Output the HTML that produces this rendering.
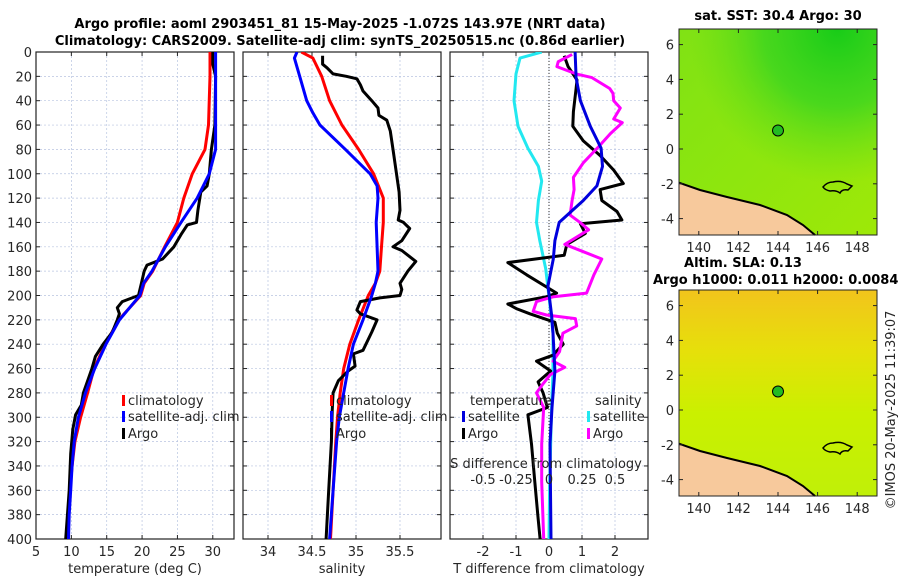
<!DOCTYPE html>
<html><head><meta charset="utf-8"><style>
body{margin:0;background:#fff;}
svg{display:block;font-family:"DejaVu Sans","Liberation Sans",sans-serif;}
.t{font-size:13px;fill:#262626;}
.b{font-size:13px;font-weight:bold;fill:#000;}
</style></head><body>
<svg id="fig" width="900" height="580" viewBox="0 0 900 580">
<defs>
<linearGradient id="sstg" x1="0" y1="0" x2="1" y2="1">
<stop offset="0" stop-color="#80e214"/><stop offset="0.5" stop-color="#8ee60e"/><stop offset="1" stop-color="#9ee808"/></linearGradient>
<radialGradient id="sstTop" cx="0.8" cy="0" r="0.75"><stop offset="0" stop-color="#18cc18"/><stop offset="0.5" stop-color="#38d420" stop-opacity="0.8"/><stop offset="1" stop-color="#60dc18" stop-opacity="0"/></radialGradient>
<linearGradient id="slag" x1="0" y1="0" x2="0" y2="1">
<stop offset="0" stop-color="#f2c41c"/><stop offset="0.3" stop-color="#e6e00a"/><stop offset="0.6" stop-color="#caf000"/><stop offset="1" stop-color="#c0f008"/></linearGradient>
<clipPath id="c1"><rect x="36" y="52" width="198" height="487"/></clipPath>
<clipPath id="c2"><rect x="243" y="52" width="198" height="487"/></clipPath>
<clipPath id="c3"><rect x="450" y="52" width="198" height="487"/></clipPath>
</defs>
<g id="root"></g>
</svg>
<script>
// ---- data ----
const tempClimDepth=[0,20,60,80,100,120,140,160,180,190,200,220,240,260,280,300,320,340,360,380,400];
const tempClim=[29.6,29.6,29.4,28.9,27.1,25.9,25.0,23.2,21.5,20.3,19.8,16.7,14.8,13.2,12.3,11.3,10.5,10.1,9.8,9.6,9.5];
const tempSatDepth=[0,80,100,120,140,160,180,190,200,220,240,260,280,300,320,340,360,380,400];
const tempSat=[30.4,30.4,29.5,27.8,25.5,23.3,21.4,20.2,19.7,16.8,14.9,13.3,12.0,11.0,10.4,10.1,9.9,9.7,9.6];
const tempArgoDepth=[0,10,20,60,80,100,110,115,130,140,142,150,160,170,175,180,190,200,205,210,215,220,230,240,250,260,280,290,298,310,330,360,400];
const tempArgo=[30.0,30.0,30.4,30.3,29.8,29.5,29.2,28.3,27.9,27.7,26.4,25.5,24.5,22.9,20.7,20.3,19.9,19.5,17.2,16.5,16.8,16.5,15.8,14.5,13.4,12.9,11.7,11.4,10.6,10.2,9.9,9.7,9.2];
const salClimDepth=[0,5,20,40,60,80,100,120,140,160,180,190,200,220,240,260,280,300,320,360,400];
const salClim=[34.38,34.51,34.61,34.70,34.84,35.03,35.20,35.31,35.31,35.29,35.27,35.22,35.14,35.03,34.93,34.86,34.82,34.79,34.77,34.74,34.71];
const salSatDepth=[0,5,20,40,50,60,80,100,110,120,140,160,180,190,200,220,240,260,280,300,320,360,400];
const salSat=[34.33,34.30,34.36,34.44,34.51,34.59,34.88,35.16,35.24,35.25,35.23,35.24,35.25,35.22,35.18,35.08,34.97,34.91,34.86,34.81,34.78,34.74,34.70];
const salArgoDepth=[3,10,13,18,20,22,27,32,40,46,52,56,65,80,100,115,130,138,140,145,155,160,163,172,180,190,195,200,202,205,212,215,220,230,245,248,258,262,270,280,295,320,360,400];
const salArgo=[34.62,34.62,34.67,34.74,34.89,35.01,35.05,35.08,35.18,35.25,35.26,35.35,35.39,35.42,35.46,35.49,35.50,35.48,35.54,35.61,35.52,35.42,35.52,35.68,35.59,35.50,35.52,35.50,35.27,35.05,35.01,35.05,35.24,35.18,35.08,34.97,34.99,34.91,34.80,34.74,34.73,34.72,34.69,34.66];
const dTSatDepth=[0,21,40,61,79,94,110,122,140,155,170,192,216,231,262,292,322,400];
const dTSat=[0.79,0.82,0.95,1.25,1.58,1.62,1.45,1.04,0.31,0.18,0.13,-0.03,0.08,0.12,0.18,0.09,0.03,0.06];
const dTArgoDepth=[3,12,23,30,49,61,73,85,97,108,113,122,131,138,141,149,158,167,173,183,198,201,207,211,215,222,231,240,249,254,262,271,280,292,298,322,353,383,400];
const dTArgo=[0.46,0.58,0.85,0.82,0.74,0.72,1.04,1.55,1.96,2.25,1.55,1.6,2.06,2.21,0.95,1.1,0.54,0.46,-1.25,-0.68,0.23,-0.07,-1.25,-0.97,-0.58,0.18,0.25,0.43,0.12,-0.38,0.05,-0.33,-0.18,-0.05,-0.64,-0.53,-0.43,-0.33,-0.27];
const dSSatDepth=[0,5,18,40,61,79,94,106,122,140,155,178,201,231,262,292,353,400];
const dSSat=[-0.055,-0.22,-0.25,-0.265,-0.235,-0.16,-0.08,-0.055,-0.08,-0.095,-0.07,-0.025,0.0,0.03,0.03,0.02,0.005,0.0];
const dSArgoDepth=[2,8,12,18,21,30,34,40,46,55,58,67,79,91,103,113,122,134,140,146,158,164,170,183,198,201,205,213,216,219,225,231,246,254,259,265,274,280,292,322,353,400];
const dSArgo=[0.175,0.07,0.06,0.205,0.325,0.46,0.485,0.49,0.54,0.49,0.555,0.465,0.365,0.26,0.185,0.19,0.175,0.16,0.235,0.30,0.12,0.26,0.40,0.34,0.285,0.035,-0.095,-0.12,-0.02,0.20,0.21,0.105,0.08,0.03,0.12,0.01,-0.055,-0.095,-0.04,-0.055,-0.055,-0.04];
const depthTicks=[0,20,40,60,80,100,120,140,160,180,200,220,240,260,280,300,320,340,360,380,400];
const tempTicks=[5,10,15,20,25,30];
const salTicks=[34,34.5,35,35.5];
const dTTicks=[-2,-1,0,1,2];
const dSTickLabels=["-0.5","-0.25","0","0.25","0.5"];
const dSTicks=[-0.5,-0.25,0,0.25,0.5];
const latTicks=[6,4,2,0,-2,-4];
const lonTicks=[140,142,144,146,148];

// ---- axes ----
const NS="http://www.w3.org/2000/svg";
const root=document.getElementById('root');
function el(tag,attrs,parent,text){const e=document.createElementNS(NS,tag);for(const k in attrs)e.setAttribute(k,attrs[k]);if(text!==undefined)e.textContent=text;(parent||root).appendChild(e);return e;}
const yD=d=>52+d*487/400;
const xT=v=>36+(v-5)*198/28;
const xS=v=>243+(v-33.716)*88;
const xDT=v=>549+v*33;
const xDS=v=>549+v*132;

function panel(x0,name,ticksX,fx,labelsX,xlabel,clip,showY){
  const g=el('g',{});
  
  
  ticksX.forEach(v=>{const l=el('line',{x1:fx(v),x2:fx(v),y1:52,y2:539,stroke:'#b8c4e0','stroke-width':0.7,'stroke-dasharray':'2,2'},g);});
  depthTicks.forEach(d=>{if(d>0&&d<400){const l=el('line',{x1:x0,x2:x0+198,y1:yD(d),y2:yD(d),stroke:'#b8c4e0','stroke-width':0.7,'stroke-dasharray':'2,2'},g);}
    el('line',{x1:x0,x2:x0+4,y1:yD(d),y2:yD(d),stroke:'#222'},g);el('line',{x1:x0+198,x2:x0+194,y1:yD(d),y2:yD(d),stroke:'#222'},g);
    if(showY){const t=el('text',{x:x0-4,y:yD(d)+5,'text-anchor':'end',class:'t'},g,String(d));}
  });
  ticksX.forEach((v,i)=>{el('line',{x1:fx(v),x2:fx(v),y1:539,y2:535,stroke:'#222'},g);el('line',{x1:fx(v),x2:fx(v),y1:52,y2:56,stroke:'#222'},g);
    const t=el('text',{x:fx(v),y:556,'text-anchor':'middle',class:'t'},g,labelsX[i]);});
  const xl=el('text',{x:x0+99,y:573,'text-anchor':'middle',class:'t'},g,xlabel);
  
  const fr=el('rect',{x:x0,y:52,width:198,height:487,fill:'none',stroke:'#222','stroke-width':1.2},g);
  
  return g;
}
function series(g,vals,depths,fx,color,clip,name){
  const pts=vals.map((v,i)=>fx(v).toFixed(1)+','+yD(depths[i]).toFixed(1)).join(' ');
  const p=el('polyline',{points:pts,fill:'none',stroke:color,'stroke-width':3,'stroke-linejoin':'round','clip-path':'url(#'+clip+')'},g);
  
  
}
function legend(g,x,y,color,label,name){
  el('rect',{x:x,y:y-10,width:3,height:11,fill:color},g);
  const t=el('text',{x:x+6,y:y,class:'t'},g,label);
  
  
}

const p1=panel(36,'temperature-panel',tempTicks,xT,tempTicks.map(String),'temperature (deg C)','c1',true);
series(p1,tempClim,tempClimDepth,xT,'#ff0000','c1','temp-climatology-line');
series(p1,tempArgo,tempArgoDepth,xT,'#000000','c1','temp-argo-line');
series(p1,tempSat,tempSatDepth,xT,'#0000ff','c1','temp-satellite-line');
legend(p1,122,405,'#ff0000','climatology','legend-climatology');
legend(p1,122,421,'#0000ff','satellite-adj. clim','legend-satellite');
legend(p1,122,438,'#000000','Argo','legend-argo');

const p2=panel(243,'salinity-panel',salTicks,xS,salTicks.map(String),'salinity','c2',false);
series(p2,salClim,salClimDepth,xS,'#ff0000','c2','sal-climatology-line');
series(p2,salArgo,salArgoDepth,xS,'#000000','c2','sal-argo-line');
series(p2,salSat,salSatDepth,xS,'#0000ff','c2','sal-satellite-line');
legend(p2,330,405,'#ff0000','climatology','legend-climatology');
legend(p2,330,421,'#0000ff','satellite-adj. clim','legend-satellite');
legend(p2,330,438,'#000000','Argo','legend-argo');

const p3=panel(450,'difference-panel',dTTicks,xDT,dTTicks.map(String),'T difference from climatology','c3',false);
el('line',{x1:xDT(0),x2:xDT(0),y1:52,y2:539,stroke:'#333','stroke-dasharray':'1,2'},p3);
series(p3,dSSat,dSSatDepth,xDS,'#22e8f0','c3','sal-diff-satellite-line');
series(p3,dTArgo,dTArgoDepth,xDT,'#000000','c3','temp-diff-argo-line');
series(p3,dSArgo,dSArgoDepth,xDS,'#ff00ff','c3','sal-diff-argo-line');
series(p3,dTSat,dTSatDepth,xDT,'#0000dd','c3','temp-diff-satellite-line');
let tt=el('text',{x:470,y:405,class:'t'},p3,'temperature');
tt=el('text',{x:595,y:405,class:'t'},p3,'salinity');
legend(p3,462,421,'#0000dd','satellite','legend-temp-satellite');
legend(p3,462,438,'#000000','Argo','legend-temp-argo');
legend(p3,587,421,'#22e8f0','satellite','legend-sal-satellite');
legend(p3,587,438,'#ff00ff','Argo','legend-sal-argo');
tt=el('text',{x:546,y:468,'text-anchor':'middle',class:'t'},p3,'S difference from climatology');
dSTicks.forEach((v,i)=>{const t=el('text',{x:xDS(v),y:484,'text-anchor':'middle',class:'t'},p3,dSTickLabels[i]);});

let ti=el('text',{x:340,y:28,'text-anchor':'middle',class:'b'},root,'Argo profile: aoml 2903451_81 15-May-2025 -1.072S 143.97E (NRT data)');

ti=el('text',{x:340,y:45,'text-anchor':'middle',class:'b'},root,'Climatology: CARS2009. Satellite-adj clim: synTS_20250515.nc (0.86d earlier)');


const lonX=l=>679+(l-139)*19.8;
function map(top,name,fill,extra){
  const g=el('g',{});
  
  
  el('rect',{x:679,y:top,width:198,height:206,fill:fill},g);
  if(extra) el('rect',{x:679,y:top,width:198,height:206,fill:extra},g);
  const oy=top-29;
  const coast=[[679,182.7],[700,190],[727,197],[760,205],[787,215],[803,225],[815,235]].map(p=>p[0]+','+(p[1]+oy)).join(' ');
  const land=el('polygon',{points:'679,'+(235+oy)+' '+coast+' 679,'+(235+oy),fill:'#f7c99c'},g);
  
  el('polyline',{points:coast,fill:'none',stroke:'#000','stroke-width':2},g);
  el('path',{d:'M823 '+(187+oy)+' q4 -5 10 -5 q8 -2 14 2 l5 2 l-4 4 q-6 -1 -8 3 q-4 -3 -10 -2 q-5 -1 -7 -4z',fill:'none',stroke:'#000','stroke-width':1.5},g);
  const c=el('circle',{cx:778,cy:130.5+oy,r:5.5,fill:'#22bb22',stroke:'#000','stroke-width':1},g);
  
  el('rect',{x:679,y:top,width:198,height:206,fill:'none',stroke:'#222'},g);
  latTicks.forEach(la=>{const y=top+120-la*17.4;el('line',{x1:679,x2:683,y1:y,y2:y,stroke:'#222'},g);el('line',{x1:877,x2:873,y1:y,y2:y,stroke:'#222'},g);
    const t=el('text',{x:674,y:y+5,'text-anchor':'end',class:'t'},g,String(la));});
  lonTicks.forEach(lo=>{const x=lonX(lo);el('line',{x1:x,x2:x,y1:top+206,y2:top+202,stroke:'#222'},g);el('line',{x1:x,x2:x,y1:top,y2:top+4,stroke:'#222'},g);
    const t=el('text',{x:x,y:top+223,'text-anchor':'middle',class:'t'},g,String(lo));});
  return g;
}
map(29,'sst-map','url(#sstg)','url(#sstTop)');
map(290,'sla-map','url(#slag)',null);
ti=el('text',{x:778,y:20,'text-anchor':'middle',class:'b'},root,'sat. SST: 30.4 Argo: 30');
ti=el('text',{x:743,y:267,'text-anchor':'middle',class:'b'},root,'Altim. SLA: 0.13');
ti=el('text',{x:653,y:284,class:'b'},root,'Argo h1000: 0.011 h2000: 0.0084');
ti=el('text',{x:0,y:0,'text-anchor':'middle',class:'t',transform:'translate(895,410) rotate(-90)'},root,'©IMOS 20-May-2025 11:39:07');
</script>
</body></html>
